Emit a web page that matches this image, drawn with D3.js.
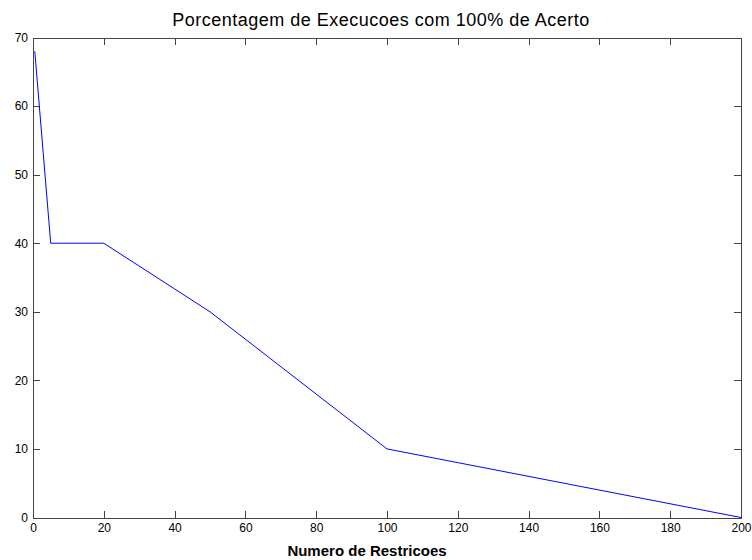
<!DOCTYPE html>
<meta charset="utf-8">
<style>
body { margin: 0; background: #fff; }
text { font-family: "Liberation Sans", Arial, sans-serif; fill: #000; }
.axis path, .axis line { stroke: #444; shape-rendering: crispEdges; }
</style>
<svg width="752" height="560"></svg>
<script src="https://d3js.org/d3.v7.min.js"></script>
<script>

var restricoes = [0.5, 5, 20, 50, 100, 200],
    acerto = [68, 40, 40, 30, 10, 0],
    xTicks = [0, 20, 40, 60, 80, 100, 120, 140, 160, 180, 200],
    yTicks = [0, 10, 20, 30, 40, 50, 60, 70];

var svg = d3.select("svg"),
    margin = {top: 37.5, right: 11, bottom: 42.5, left: 33},
    width = 752 - margin.left - margin.right,
    height = 560 - margin.top - margin.bottom;

var g = svg.append("g")
    .attr("transform", "translate(" + margin.left + "," + margin.top + ")");

var x = d3.scaleLinear().domain([0, 200]).range([0, width]),
    y = d3.scaleLinear().domain([0, 70]).range([height, 0]);

// bottom / left with labels, top / right mirrored ticks only
g.append("g")
    .attr("class", "axis")
    .attr("transform", "translate(0," + height + ")")
    .call(d3.axisBottom(x).tickValues(xTicks).tickSizeInner(-7).tickSizeOuter(0).tickPadding(4))
    .call(function(a) { a.selectAll("text").attr("font-size", 12).attr("dy", "0.9em"); });

g.append("g")
    .attr("class", "axis")
    .call(d3.axisLeft(y).tickValues(yTicks).tickSizeInner(-7).tickSizeOuter(0).tickPadding(5))
    .call(function(a) { a.selectAll("text").attr("font-size", 12).attr("x", -5); });

g.append("g")
    .attr("class", "axis")
    .call(d3.axisTop(x).tickValues(xTicks).tickSizeInner(-7).tickSizeOuter(0).tickFormat(""));

g.append("g")
    .attr("class", "axis")
    .attr("transform", "translate(" + width + ",0)")
    .call(d3.axisRight(y).tickValues(yTicks).tickSizeInner(-7).tickSizeOuter(0).tickFormat(""));

g.selectAll(".axis text").attr("fill", "#000");

var line = d3.line()
    .x(function(d, i) { return x(restricoes[i]); })
    .y(function(d) { return y(d); });

g.append("path")
    .datum(acerto)
    .attr("fill", "none")
    .attr("stroke", "#0000ff")
    .attr("stroke-width", 1)
    .attr("d", line);

svg.append("text")
    .attr("x", 381)
    .attr("y", 26)
    .attr("text-anchor", "middle")
    .attr("font-size", 18)
    .attr("letter-spacing", 0.5)
    .text("Porcentagem de Execucoes com 100% de Acerto");

svg.append("text")
    .attr("x", 367)
    .attr("y", 556)
    .attr("text-anchor", "middle")
    .attr("font-size", 15)
    .attr("font-weight", "bold")
    .text("Numero de Restricoes");

</script>
